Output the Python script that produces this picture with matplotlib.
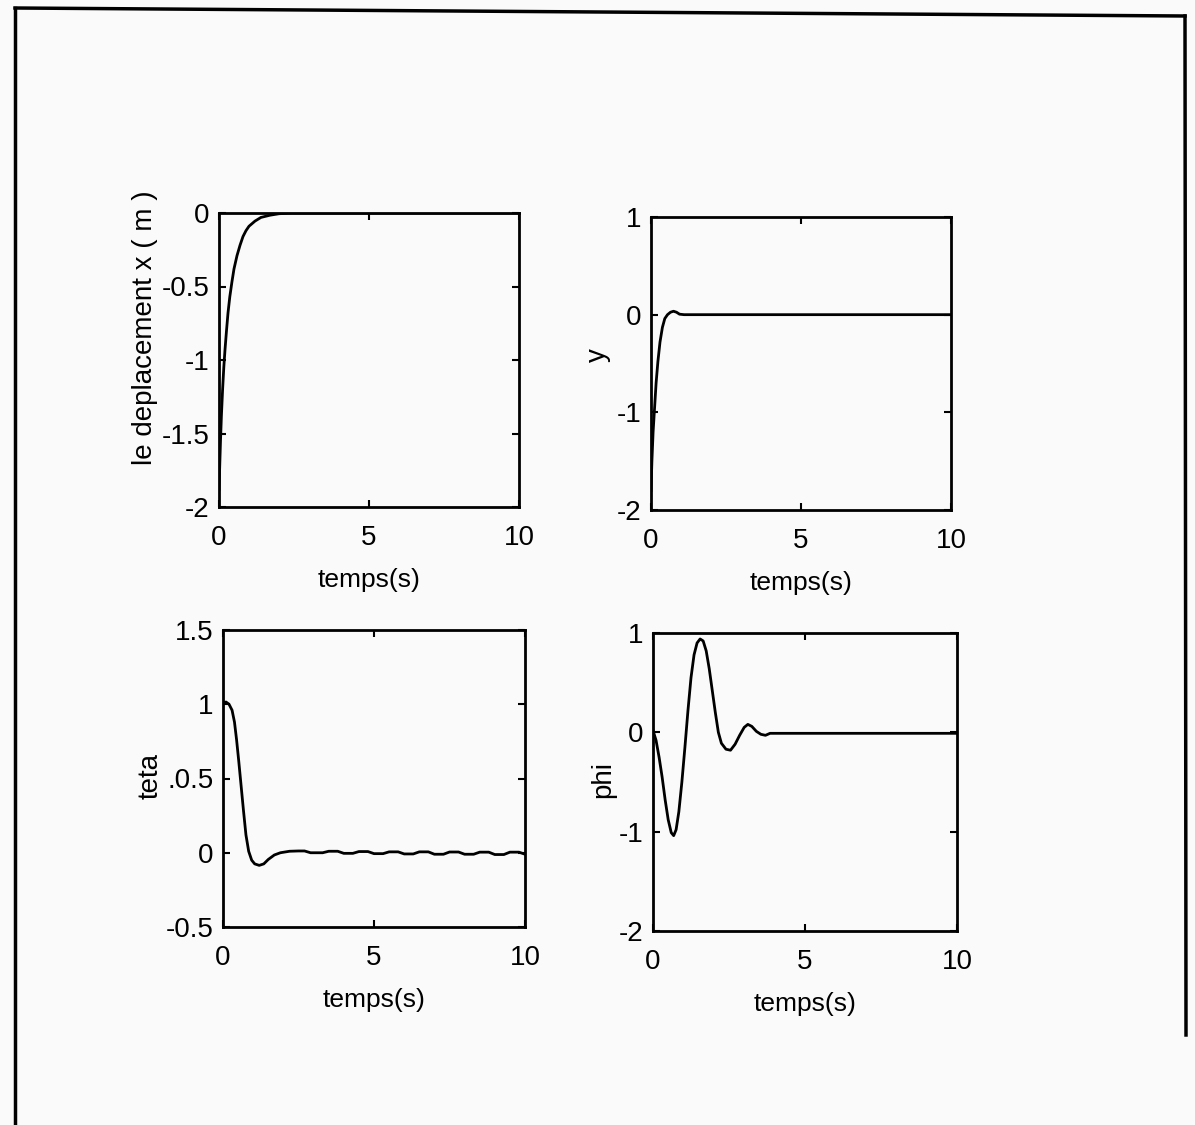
import numpy as np
import matplotlib.pyplot as plt
from matplotlib.lines import Line2D
import matplotlib

matplotlib.rcParams.update({'font.family': ['Liberation Sans', 'DejaVu Sans']})
matplotlib.rcParams.update({'font.size': 18})

# deplacement x
t_x = [0, 0.02, 0.05, 0.08, 0.12, 0.16, 0.2, 0.25, 0.3, 0.36, 0.43, 0.5, 0.6,
       0.7, 0.8, 0.9, 1.0, 1.2, 1.4, 1.7, 2.0, 2.4, 10]
x_val = [-1.88, -1.75, -1.55, -1.38, -1.2, -1.05, -0.93, -0.8, -0.68, -0.57,
         -0.47, -0.38, -0.29, -0.22, -0.16, -0.12, -0.09, -0.055, -0.03,
         -0.015, -0.005, 0, 0]

# y
t_y = [0, 0.03, 0.07, 0.12, 0.17, 0.23, 0.3, 0.38, 0.46, 0.55, 0.65, 0.75,
       0.85, 0.95, 1.1, 10]
y_val = [-1.8, -1.5, -1.2, -0.95, -0.7, -0.48, -0.28, -0.13, -0.04, 0.0, 0.025,
         0.035, 0.025, 0.005, 0.0, 0.0]

# teta
t_teta = [0, 0.1, 0.2, 0.3, 0.38, 0.45, 0.52, 0.6, 0.68, 0.76, 0.85, 0.95,
          1.05, 1.2, 1.35, 1.5, 1.7, 1.9, 2.2, 2.5, 2.7, 2.9, 3.3, 3.5, 3.8,
          4.0, 4.3, 4.5, 4.8, 5.0, 5.3, 5.5, 5.8, 6.0, 6.3, 6.5, 6.8, 7.0, 7.3,
          7.5, 7.8, 8.0, 8.3, 8.5, 8.8, 9.0, 9.3, 9.5, 9.8, 10]
teta_val = [1.01, 1.015, 1.0, 0.96, 0.88, 0.76, 0.62, 0.45, 0.28, 0.12, 0.01,
            -0.05, -0.075, -0.085, -0.075, -0.045, -0.015, 0.0, 0.01, 0.012,
            0.012, 0.0, 0.0, 0.01, 0.01, -0.004, -0.004, 0.008, 0.008, -0.006,
            -0.006, 0.006, 0.006, -0.008, -0.008, 0.006, 0.006, -0.01, -0.01,
            0.005, 0.005, -0.01, -0.01, 0.004, 0.004, -0.012, -0.012, 0.004,
            0.004, -0.01]

# phi
t_phi = [0, 0.1, 0.2, 0.3, 0.4, 0.5, 0.6, 0.68, 0.76, 0.85, 0.95, 1.05, 1.15,
         1.25, 1.35, 1.45, 1.55, 1.65, 1.75, 1.85, 1.95, 2.05, 2.15, 2.25, 2.4,
         2.55, 2.7, 2.85, 3.0, 3.12, 3.25, 3.4, 3.55, 3.7, 3.85, 10]
phi_val = [0.02, -0.08, -0.25, -0.45, -0.68, -0.88, -1.01, -1.04, -0.98, -0.8,
           -0.5, -0.15, 0.22, 0.55, 0.78, 0.9, 0.94, 0.92, 0.82, 0.64, 0.42,
           0.2, 0.0, -0.11, -0.17, -0.18, -0.12, -0.03, 0.05, 0.08, 0.06, 0.01,
           -0.02, -0.03, -0.01, -0.01]

W, H = 1195, 1125
fig = plt.figure(figsize=(W / 100, H / 100), dpi=100, facecolor='#fafafa')

def px_axes(l, t, r, b):
    return fig.add_axes([l / W, 1 - b / H, (r - l) / W, (b - t) / H])

panels = [
    (px_axes(219, 213, 519, 507), t_x, x_val, (-2, 0), [-2, -1.5, -1, -0.5, 0],
     ['-2', '-1.5', '-1', '-0.5', '0'], 'le deplacement x ( m )', (-0.247, 0.61)),
    (px_axes(651, 217, 951, 510), t_y, y_val, (-2, 1), [-2, -1, 0, 1],
     ['-2', '-1', '0', '1'], 'y', (-0.177, 0.53)),
    (px_axes(223, 630, 525, 927), t_teta, teta_val, (-0.5, 1.5),
     [-0.5, 0, 0.5, 1, 1.5], ['-0.5', '0', '.0.5', '1', '1.5'], 'teta',
     (-0.24, 0.51)),
    (px_axes(653, 633, 957, 931), t_phi, phi_val, (-2, 1), [-2, -1, 0, 1],
     ['-2', '-1', '0', '1'], 'phi', (-0.164, 0.507)),
]

for ax, t, v, ylim, yt, ytl, ylab, lab_xy in panels:
    ax.plot(t, v, color='black', lw=2, solid_joinstyle='round')
    ax.set_xlim(0, 10)
    ax.set_ylim(*ylim)
    ax.set_xticks([0, 5, 10])
    ax.set_xticklabels(['0', '5', '10'])
    ax.set_yticks(yt)
    ax.set_yticklabels(ytl)
    ax.tick_params(direction='in', top=True, right=True, length=5, width=1.5,
                   labelsize=20, pad=7)
    ax.tick_params(axis='x', pad=13)
    for s in ax.spines.values():
        s.set_linewidth(2)
    ax.set_facecolor('#fafafa')
    ax.set_xlabel('temps(s)', fontsize=19, labelpad=12)
    ax.set_ylabel(ylab, fontsize=20, va='center')
    ax.yaxis.set_label_coords(*lab_xy)

# scanned page frame
frame = dict(color='black', lw=2.5, transform=fig.transFigure)
fig.add_artist(Line2D([15 / W, 15 / W], [1 - 8 / H, 0], **frame))
fig.add_artist(Line2D([15 / W, 1185 / W], [1 - 8 / H, 1 - 16 / H], **frame))
fig.add_artist(Line2D([1185 / W, 1186 / W], [1 - 16 / H, 0.08], **frame))

plt.savefig('out.png', dpi=100, facecolor=fig.get_facecolor())
